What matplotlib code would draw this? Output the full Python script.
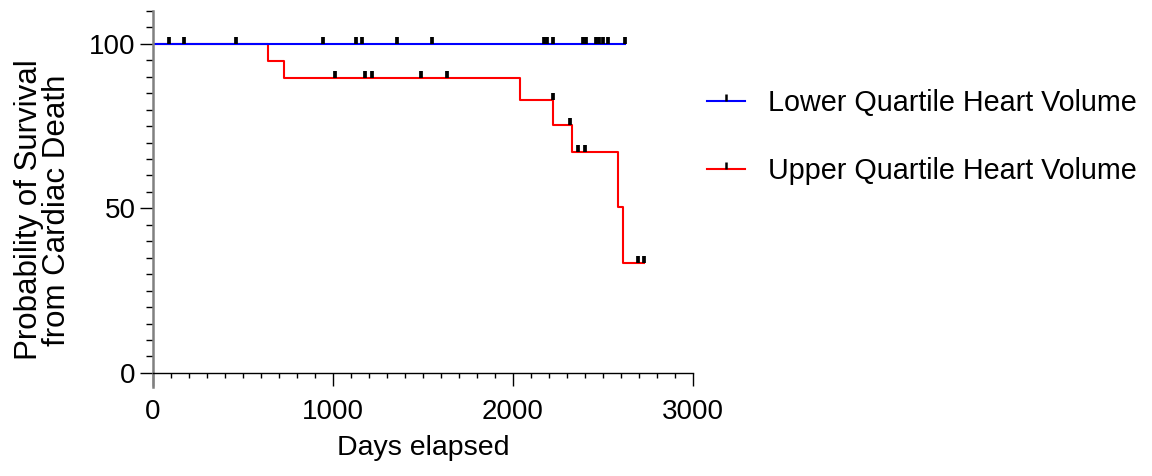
import numpy as np
import matplotlib
matplotlib.use("Agg")
import matplotlib.pyplot as plt
from matplotlib.path import Path
from matplotlib.ticker import MultipleLocator

plt.rcParams['font.family'] = ['Liberation Sans', 'DejaVu Sans']

# Kaplan-Meier steps (days, % surviving)
lower_times = [0, 2622]
lower_surv = [100, 100]
lower_censored = [89, 171, 461, 946, 1128, 1163, 1356, 1550, 2172, 2190, 2220,
                  2390, 2405, 2460, 2480, 2500, 2525, 2622]

upper_times = [0, 641, 728, 2039, 2224, 2328, 2581, 2613, 2729]
upper_surv = [100, 94.7, 89.5, 83.0, 75.3, 67.0, 50.3, 33.5, 33.5]
upper_censored = [1011, 1178, 1218, 1489, 1635, 2220, 2318, 2363, 2400, 2696, 2729]

labels = ["Lower Quartile Heart Volume", "Upper Quartile Heart Volume"]
colors = ["#0000ff", "#ff0000"]


def level_at(times, surv, t):
    idx = np.searchsorted(times, t, side="right") - 1
    return np.asarray(surv)[idx]


# censor tick: short bar pointing up from the curve
tick = Path([(0, 0), (0, 1)])

fig = plt.figure(figsize=(11.52, 4.76), dpi=100)
ax = fig.add_axes([153 / 1152, 1 - 387 / 476, 540 / 1152, 376 / 476])

groups = [(upper_times, upper_surv, upper_censored, colors[1], labels[1]),
          (lower_times, lower_surv, lower_censored, colors[0], labels[0])]
handles = {}
for times, surv, cens, col, lab in groups:
    ax.plot(times, surv, drawstyle="steps-post", color=col, lw=1.5, zorder=2)
    ax.plot(cens, level_at(times, surv, cens), ls="none", marker=tick, ms=10.5,
            mew=2.7, mec="black", zorder=3)
    h, = plt.plot([], [], color=col, lw=1.5, marker=tick, ms=10, mew=1.8, mec="black")
    handles[lab] = h

ax.set_xlim(0, 3000)
ax.set_ylim(-4.3, 110)
ax.spines['top'].set_visible(False)
ax.spines['right'].set_visible(False)
ax.spines['bottom'].set_position(('data', 0))
ax.spines['bottom'].set_linewidth(1.0)
ax.spines['left'].set_color('#808080')
ax.spines['left'].set_linewidth(1.8)

ax.xaxis.set_major_locator(MultipleLocator(1000))
ax.xaxis.set_minor_locator(MultipleLocator(100))
ax.yaxis.set_major_locator(MultipleLocator(50))
ax.yaxis.set_minor_locator(MultipleLocator(5))
ax.tick_params(axis='x', which='major', length=9.5, width=1.0, pad=9, labelsize=20)
ax.tick_params(axis='x', which='minor', length=3.8, width=1.0)
ax.tick_params(axis='y', which='major', length=9.5, width=1.0, pad=3, labelsize=20)
ax.tick_params(axis='y', which='minor', length=5, width=1.0)

fig.text(43 / 1152, 1 - 210 / 476, "Probability of Survival\nfrom Cardiac Death",
         rotation=90, ha='center', va='center', multialignment='center', fontsize=22.5,
         linespacing=0.95)
fig.text(423 / 1152, 1 - 455 / 476, "Days elapsed", ha='center', va='baseline', fontsize=20.5)

fig.legend([handles[l] for l in labels], labels, loc='upper left',
           bbox_to_anchor=(707 / 1152, 1 - 89 / 476), frameon=False, fontsize=20.7,
           handlelength=1.33, handletextpad=0.8, labelspacing=1.38, borderpad=0,
           borderaxespad=0, numpoints=1)

fig.savefig("out.png", dpi=100)
